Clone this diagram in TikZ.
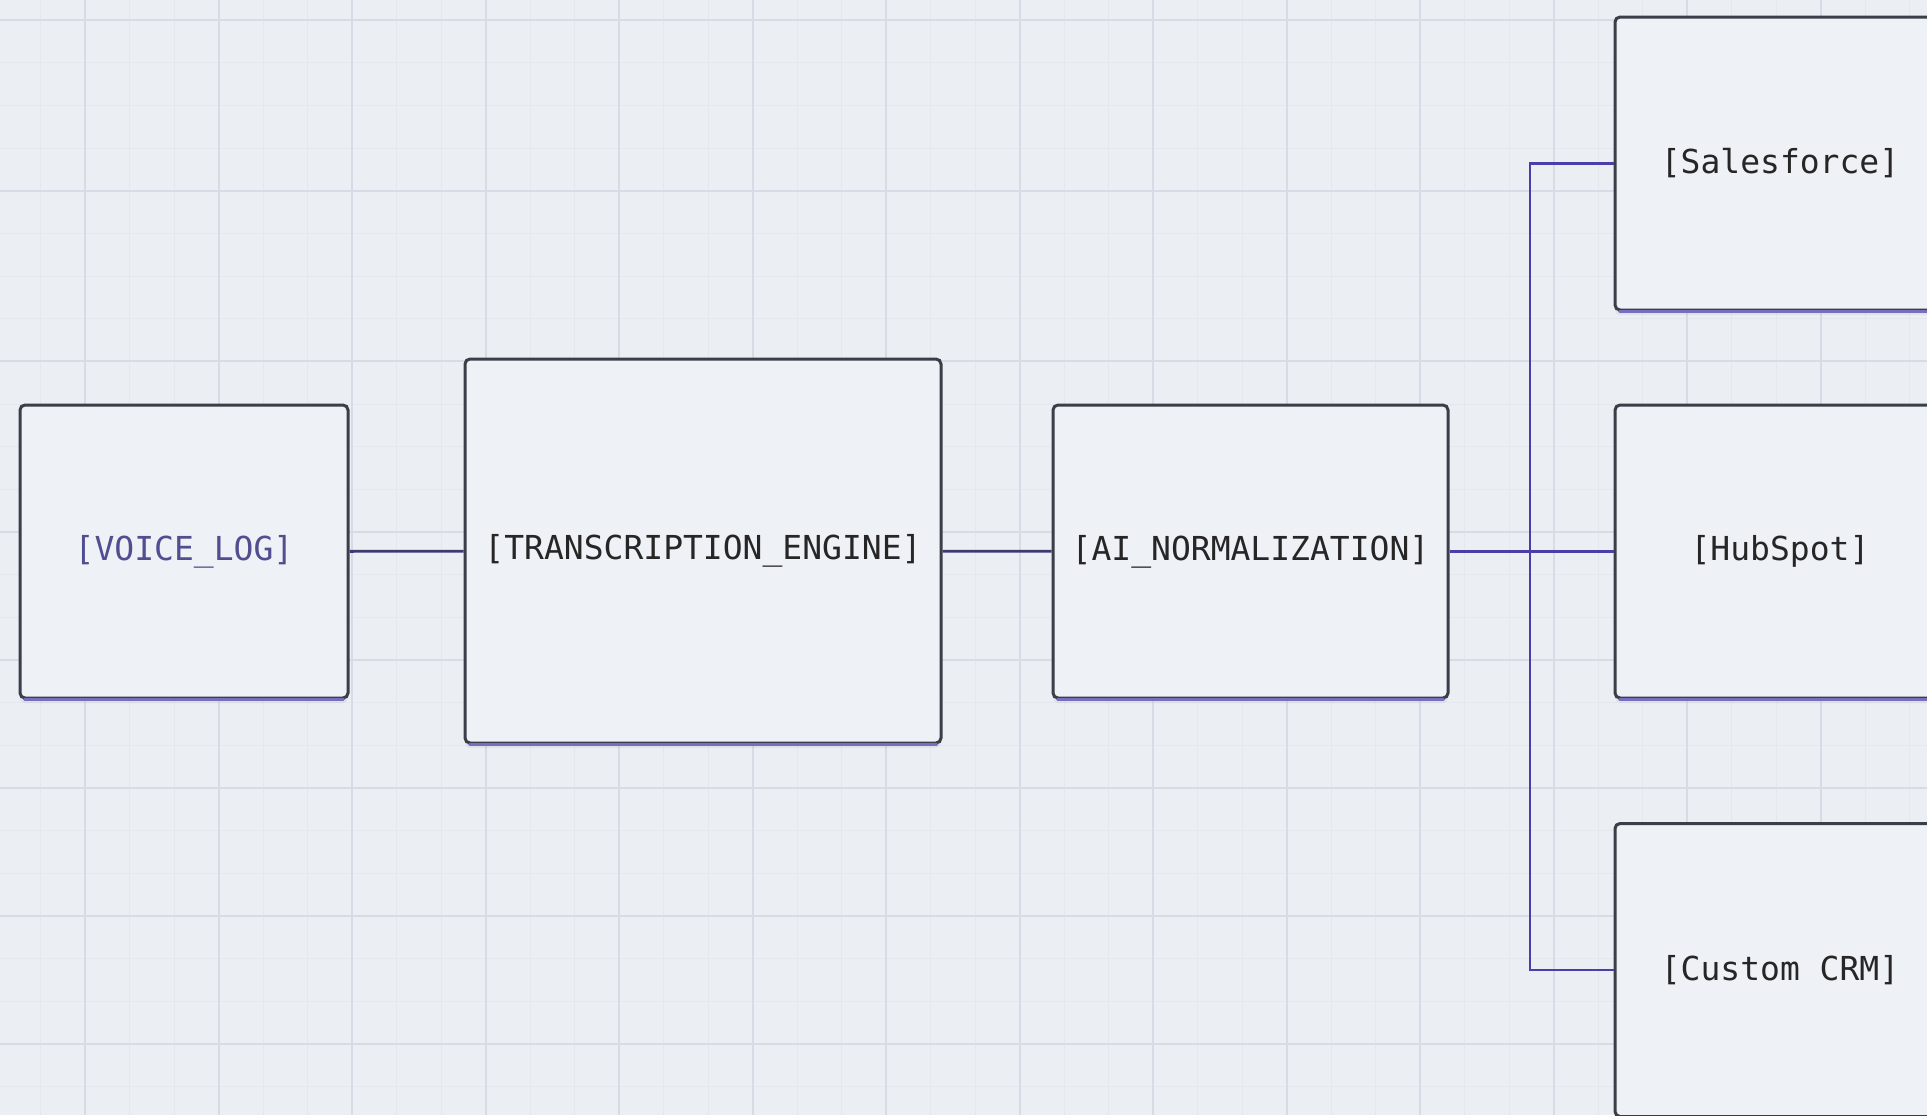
\documentclass[tikz,border=0pt]{standalone}
\usepackage{fontspec}
\setmonofont{DejaVu Sans Mono}
\usepackage{tikz}
\usetikzlibrary{positioning,calc,shadows}

\definecolor{paper}{RGB}{235,238,243}
\definecolor{gridmin}{RGB}{227,231,238}
\definecolor{gridmaj}{RGB}{214,219,229}
\definecolor{boxfill}{RGB}{238,241,245}
\definecolor{boxline}{RGB}{58,62,72}
\definecolor{wire}{RGB}{74,62,170}
\definecolor{wiredark}{RGB}{60,58,115}
\definecolor{voicetxt}{RGB}{80,78,145}

\tikzset{
  minline/.style={draw=gridmin, line width=0.5pt},
  majline/.style={draw=gridmaj, line width=1pt},
  stage/.style={draw=boxline, line width=1.5pt, fill=boxfill, rounded corners=2.5pt,
    inner sep=0pt, text=black!85, font=\ttfamily\fontsize{16.5}{19}\selectfont,
    drop shadow={shadow xshift=0pt, shadow yshift=-2.5pt, opacity=0.10}},
  wire/.style={draw=wire, line width=1.4pt},
  glow/.style={draw=wire!75, line width=1.5pt, line cap=round},
}

\begin{document}
\begin{tikzpicture}[x=0.5pt, y=-0.5pt]
\clip (0,0) rectangle (1927,1115);
\fill[paper] (0,0) rectangle (1927,1115);
% grid
\foreach \k in {-1,...,41}
  \draw[minline] ({85+44.5*\k},0) -- ++(0,1115);
\foreach \k in {0,...,25}
  \draw[minline] (0,{20+42.67*\k}) -- ++(1927,0);
\foreach \k in {0,3,...,39}
  \draw[majline] ({85+44.5*\k},0) -- ++(0,1115);
\foreach \k in {0,4,8,12,15,18,21,24}
  \draw[majline] (0,{20+42.67*\k}) -- ++(1927,0);

% pipeline
\node[stage, minimum width=164pt, minimum height=146.5pt, text=voicetxt] (voice) at (184,551.5) {[VOICE\_LOG]};
\node[stage, minimum width=238pt, minimum height=192pt] (trans) at (703,551) {[TRANSCRIPTION\_ENGINE]};
\node[stage, minimum width=197.5pt, minimum height=146.5pt] (norm) at (1250.5,551.5) {[AI\_NORMALIZATION]};

% targets
\node[stage, minimum width=165pt, minimum height=146.5pt] (sales) at (1780,163.5) {[Salesforce]};
\node[stage, minimum width=165pt, minimum height=146.5pt] (hub) at (1780,551.5) {[HubSpot]};
\node[stage, minimum width=165pt, minimum height=146.5pt] (crm) at (1780,970) {[Custom CRM]};

\foreach \n in {voice,trans,norm,sales,hub}
  \draw[glow] ($(\n.south west)+(6,0)$) -- ($(\n.south east)+(-6,0)$);

\coordinate (bus) at (1530,551.5);
\draw[wire, draw=wiredark] (voice) -- (trans);
\draw[wire, draw=wiredark] (trans) -- (norm);
\draw[wire] (norm) -- (hub);
\draw[wire] (sales.west) -| (bus) |- (crm.west);
\end{tikzpicture}
\end{document}
